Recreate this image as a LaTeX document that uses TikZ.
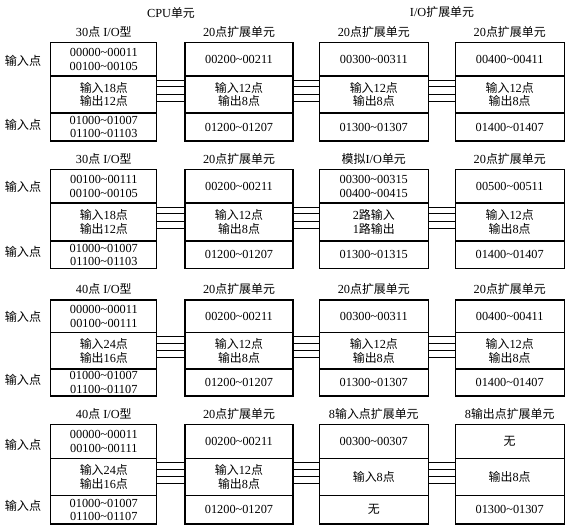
\documentclass[tikz,border=0pt]{standalone}
\usepackage{fontspec}
\setmainfont{Liberation Serif}
\newfontfamily\cjk{Noto Sans CJK SC}[Scale=0.97]
\newcommand\zh[1]{{\cjk #1}}
\newcommand\ttld{\textasciitilde}
\tikzset{
 sec/.style={draw, line width=1.1pt, anchor=north, inner sep=0pt, outer sep=0pt, align=center, font=\fontsize{12.3}{13.5}\selectfont},
 hdr/.style={inner sep=0pt, font=\fontsize{12.3}{14}\selectfont},
 lbl/.style={inner sep=0pt, font=\fontsize{12.5}{14}\selectfont},
 bus/.style={line width=0.9pt},
}
\newcommand\unitbox[7]{%
 \node[sec, minimum width=#3pt, minimum height=\ha pt] (#1t) at (#2,\rowtop) {#5};
 \node[sec, minimum width=#3pt, minimum height=\hb pt] (#1m) at (#1t.south) {#6};
 \node[sec, minimum width=#3pt, minimum height=\hc pt] (#1b) at (#1m.south) {#7};
 \node[hdr] (#1h) at (#2,\rowtop-11) {#4};
}
\newcommand\bus[2]{\foreach \o in {4,10.5,18,25}{\draw[bus] ([yshift=-1pt*\o]#1m.north east) -- ([yshift=-1pt*\o]#2m.north west);}}
\begin{document}
\begin{tikzpicture}[x=1pt,y=-1pt]
\useasboundingbox (0,0) rectangle (572,529);
\node[hdr] (cpu) at (171,13) {CPU\zh{单元}};
\node[hdr] (ioext) at (442,12) {I/O\zh{扩展单元}};
% Row 1
\def\rowtop{42.5}\def\ha{33.5}\def\hb{37}\def\hc{28}
\unitbox{r1a}{103.8}{106}{30\zh{点} I/O\zh{型}}{00000\ttld 00011\\00100\ttld 00105}{\zh{输入}18\zh{点}\\\zh{输出}12\zh{点}}{01000\ttld 01007\\01100\ttld 01103}
\unitbox{r1b}{239}{108}{20\zh{点扩展单元}}{00200\ttld 00211}{\zh{输入}12\zh{点}\\\zh{输出}8\zh{点}}{01200\ttld 01207}
\unitbox{r1c}{373.8}{109}{20\zh{点扩展单元}}{00300\ttld 00311}{\zh{输入}12\zh{点}\\\zh{输出}8\zh{点}}{01300\ttld 01307}
\unitbox{r1d}{509.7}{109}{20\zh{点扩展单元}}{00400\ttld 00411}{\zh{输入}12\zh{点}\\\zh{输出}8\zh{点}}{01400\ttld 01407}
\bus{r1a}{r1b}\bus{r1b}{r1c}\bus{r1c}{r1d}
\node[lbl] (r1l1) at (23,61) {\zh{输入点}};
\node[lbl] (r1l2) at (23,125) {\zh{输入点}};
% Row 2
\def\rowtop{169.5}\def\ha{33.5}\def\hb{38}\def\hc{27.5}
\unitbox{r2a}{103.8}{106}{30\zh{点} I/O\zh{型}}{00100\ttld 00111\\00100\ttld 00105}{\zh{输入}18\zh{点}\\\zh{输出}12\zh{点}}{01000\ttld 01007\\01100\ttld 01103}
\unitbox{r2b}{239}{108}{20\zh{点扩展单元}}{00200\ttld 00211}{\zh{输入}12\zh{点}\\\zh{输出}8\zh{点}}{01200\ttld 01207}
\unitbox{r2c}{373.8}{109}{\zh{模拟}I/O\zh{单元}}{00300\ttld 00315\\00400\ttld 00415}{2\zh{路输入}\\1\zh{路输出}}{01300\ttld 01315}
\unitbox{r2d}{509.7}{109}{20\zh{点扩展单元}}{00500\ttld 00511}{\zh{输入}12\zh{点}\\\zh{输出}8\zh{点}}{01400\ttld 01407}
\bus{r2a}{r2b}\bus{r2b}{r2c}\bus{r2c}{r2d}
\node[lbl] (r2l1) at (23,187) {\zh{输入点}};
\node[lbl] (r2l2) at (23,252) {\zh{输入点}};
% Row 3
\def\rowtop{300}\def\ha{32.5}\def\hb{36.5}\def\hc{27}
\unitbox{r3a}{103.8}{106}{40\zh{点} I/O\zh{型}}{00000\ttld 00011\\00100\ttld 00111}{\zh{输入}24\zh{点}\\\zh{输出}16\zh{点}}{01000\ttld 01007\\01100\ttld 01107}
\unitbox{r3b}{239}{108}{20\zh{点扩展单元}}{00200\ttld 00211}{\zh{输入}12\zh{点}\\\zh{输出}8\zh{点}}{01200\ttld 01207}
\unitbox{r3c}{373.8}{109}{20\zh{点扩展单元}}{00300\ttld 00311}{\zh{输入}12\zh{点}\\\zh{输出}8\zh{点}}{01300\ttld 01307}
\unitbox{r3d}{509.7}{109}{20\zh{点扩展单元}}{00400\ttld 00411}{\zh{输入}12\zh{点}\\\zh{输出}8\zh{点}}{01400\ttld 01407}
\bus{r3a}{r3b}\bus{r3b}{r3c}\bus{r3c}{r3d}
\node[lbl] (r3l1) at (23,317) {\zh{输入点}};
\node[lbl] (r3l2) at (23,380) {\zh{输入点}};
% Row 4
\def\rowtop{424.5}\def\ha{34}\def\hb{37}\def\hc{28.5}
\unitbox{r4a}{103.8}{106}{40\zh{点} I/O\zh{型}}{00000\ttld 00011\\00100\ttld 00111}{\zh{输入}24\zh{点}\\\zh{输出}16\zh{点}}{01000\ttld 01007\\01100\ttld 01107}
\unitbox{r4b}{239}{108}{20\zh{点扩展单元}}{00200\ttld 00211}{\zh{输入}12\zh{点}\\\zh{输出}8\zh{点}}{01200\ttld 01207}
\unitbox{r4c}{373.8}{109}{8\zh{输入点扩展单元}}{00300\ttld 00307}{\zh{输入}8\zh{点}}{\zh{无}}
\unitbox{r4d}{509.7}{109}{8\zh{输出点扩展单元}}{\zh{无}}{\zh{输出}8\zh{点}}{01300\ttld 01307}
\bus{r4a}{r4b}\bus{r4b}{r4c}\bus{r4c}{r4d}
\node[lbl] (r4l1) at (23,445) {\zh{输入点}};
\node[lbl] (r4l2) at (23,506) {\zh{输入点}};
\end{tikzpicture}
\end{document}
